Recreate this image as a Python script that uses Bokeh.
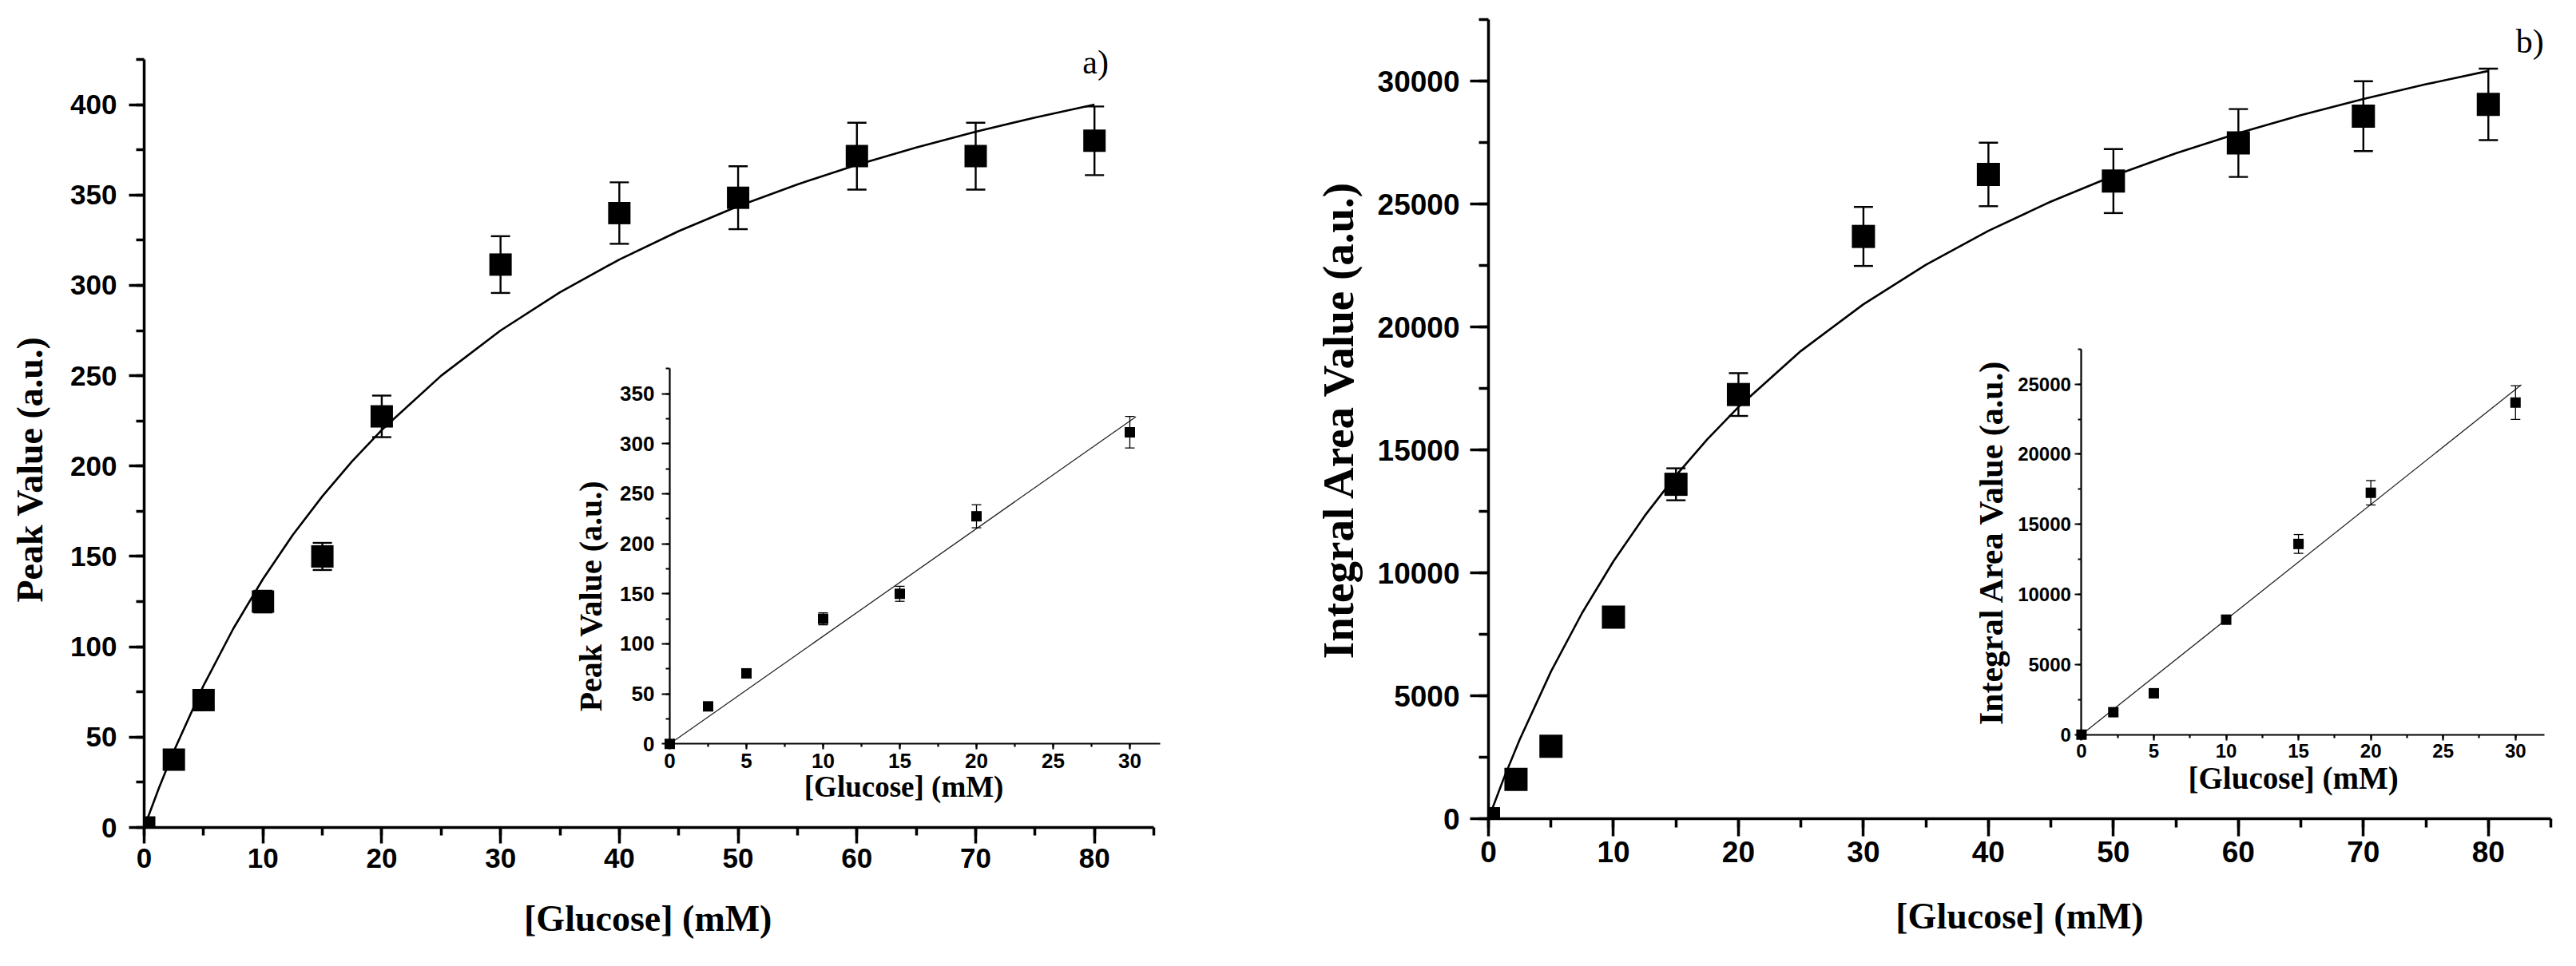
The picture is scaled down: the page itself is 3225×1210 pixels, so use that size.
from bokeh.plotting import figure
from bokeh.models import Range1d, LinearAxis, SingleIntervalTicker, Label
from bokeh.layouts import row
from bokeh.embed import file_html
from bokeh.resources import INLINE

# ---------------- data ----------------
# panel a) main
glucose_a = [0, 2.5, 5, 10, 15, 20, 30, 40, 50, 60, 70, 80]
peak_value = [0, 37.5, 70.5, 125, 150, 227.5, 311.5, 340, 348.5, 371.5, 371.5, 380]
peak_err = [0, 3, 3, 6, 7.5, 11.5, 15.7, 17, 17.4, 18.5, 18.5, 19]
fit_a_x = [0, 1.25, 2.5, 5, 7.5, 10, 12.5, 15, 17.5, 20, 25, 30, 35, 40, 45, 50, 55, 60, 65, 70, 75, 80]
fit_a_y = [0, 22.0, 42.3, 78.6, 110.0, 137.5, 161.8, 183.3, 202.6, 220.0, 250.0, 275.0, 296.2,
           314.3, 330.0, 343.8, 355.9, 366.7, 376.3, 385.0, 392.9, 400.0]
# panel a) inset
inset_glucose_a = [0, 2.5, 5, 10, 15, 20, 30]
inset_peak = [0, 37.5, 70.5, 125, 150, 227.5, 311.5]
inset_peak_err = [0, 3, 3, 6, 7.5, 11.5, 15.7]
inset_fit_a_x = [0, 30.4]
inset_fit_a_y = [0, 327]

# panel b) main
glucose_b = [0, 2.2, 5, 10, 15, 20, 30, 40, 50, 60, 70, 80]
area_value = [0, 1600, 2950, 8200, 13600, 17250, 23680, 26200, 25930, 27480, 28570, 29050]
area_err = [0, 200, 200, 300, 650, 870, 1200, 1290, 1300, 1380, 1420, 1455]
fit_b_x = [0, 1.25, 2.5, 5, 7.5, 10, 12.5, 15, 17.5, 20, 25, 30, 35, 40, 45, 50, 55, 60, 65, 70, 75, 80]
fit_b_y = [0, 1676, 3223, 5985, 8377, 10470, 12316, 13956, 15423, 16743, 19023, 20922, 22529,
           23906, 25099, 26142, 27063, 27881, 28613, 29272, 29868, 30410]
# panel b) inset
inset_glucose_b = [0, 2.2, 5, 10, 15, 20, 30]
inset_area = [0, 1600, 2950, 8200, 13600, 17250, 23680]
inset_area_err = [0, 200, 200, 300, 670, 870, 1200]
inset_fit_b_x = [0, 30.4]
inset_fit_b_y = [0, 24950]

x_title = "[Glucose] (mM)"
y_title_a = "Peak Value (a.u.)"
y_title_b = "Integral Area Value (a.u.)"

SANS = "Liberation Sans"
SERIF = "Liberation Serif"
NB = "\u00a0"  # used to nudge the centred axis titles like in the original

BORDER_TOP = 24      # shared top border (frames of a row share their top edge)
BORDER_BOTTOM = 150


def style_axis(ax, tick_font, tick_out, minor_out, lab_standoff, title_font, title_standoff, lw):
    ax.major_label_text_font = SANS
    ax.major_label_text_font_style = "bold"
    ax.major_label_text_font_size = tick_font
    ax.major_label_text_color = "black"
    ax.major_tick_in = 0
    ax.minor_tick_in = 0
    ax.major_tick_out = tick_out
    ax.minor_tick_out = minor_out
    ax.major_label_standoff = lab_standoff
    ax.axis_label_text_font = SERIF
    ax.axis_label_text_font_style = "bold"
    ax.axis_label_text_font_size = title_font
    ax.axis_label_text_color = "black"
    ax.axis_label_standoff = title_standoff
    ax.axis_line_width = lw
    ax.major_tick_line_width = lw
    ax.minor_tick_line_width = lw
    ax.axis_line_color = "black"
    ax.major_tick_line_color = "black"
    ax.minor_tick_line_color = "black"


def inset_ranges(frame_w, frame_h, px_l, px_r, px_b, px_t, x0, x1, y0, y1):
    sx = (px_r - px_l) / (x1 - x0)
    sy = (px_t - px_b) / (y1 - y0)
    xs = x0 - px_l / sx
    ys = y0 - px_b / sy
    return Range1d(xs, xs + frame_w / sx), Range1d(ys, ys + frame_h / sy)


def errorbars(p, xs, ys, errs, cap, lw, **kw):
    xe, lo, hi = [], [], []
    for x, y, e in zip(xs, ys, errs):
        if e > 0:
            xe.append(x)
            lo.append(y - e)
            hi.append(y + e)
    p.segment(x0=xe, y0=lo, x1=xe, y1=hi, line_color="black", line_width=lw, **kw)
    p.scatter(xe + xe, lo + hi, marker="dash", size=cap, line_color="black", line_width=lw, **kw)


def make_panel(cfg):
    FW = cfg["frame_w"]
    FH = cfg["frame_h"]
    sy = cfg["y_px"] / cfg["y_top"]          # px per unit of main y
    ixr, iyr = inset_ranges(FW, FH, *cfg["inset_px"], 0, cfg["inset_x_end"], 0, cfg["inset_y_end"])
    p = figure(frame_width=FW, frame_height=FH,
               x_range=Range1d(0, cfg["x_end"]), y_range=Range1d(0, FH / sy),
               extra_x_ranges={"ix": ixr}, extra_y_ranges={"iy": iyr},
               output_backend="svg", toolbar_location=None,
               min_border_left=cfg["borders"][0], min_border_right=cfg["borders"][1],
               min_border_top=BORDER_TOP, min_border_bottom=BORDER_BOTTOM)
    p.xgrid.visible = False
    p.ygrid.visible = False
    p.outline_line_color = None
    p.background_fill_color = "white"
    p.border_fill_color = "white"

    # main axes
    p.xaxis.ticker = SingleIntervalTicker(interval=10, num_minor_ticks=2)
    p.yaxis.ticker = SingleIntervalTicker(interval=cfg["y_int"], num_minor_ticks=2)
    p.xaxis.bounds = (0, 85)
    p.yaxis.bounds = (0, cfg["y_top"])
    p.xaxis.axis_label = x_title + NB * cfg["pad"][0]
    p.yaxis.axis_label = cfg["ytitle"] + NB * cfg["pad"][1]
    style_axis(p.xaxis[0], *cfg["main_x"])
    style_axis(p.yaxis[0], *cfg["main_y"])

    # main data
    p.line(cfg["fit_x"], cfg["fit_y"], line_color="black", line_width=2.6)
    errorbars(p, cfg["x"], cfg["y"], cfg["err"], cfg["cap"], 2.4)
    p.scatter(cfg["x"], cfg["y"], marker="square", size=cfg["msize"], fill_color="black", line_color=None)

    # inset axes
    iax = LinearAxis(x_range_name="ix", y_range_name="iy", fixed_location=0,
                     bounds=(0, cfg["inset_x_end"]),
                     ticker=SingleIntervalTicker(interval=5, num_minor_ticks=2),
                     axis_label=x_title + NB * cfg["pad"][2])
    iay = LinearAxis(x_range_name="ix", y_range_name="iy", fixed_location=0,
                     bounds=(0, cfg["inset_y_end"]),
                     ticker=SingleIntervalTicker(interval=cfg["iy_int"], num_minor_ticks=2),
                     axis_label=cfg["ytitle"] + NB * cfg["pad"][3])
    style_axis(iax, *cfg["inset_x"])
    style_axis(iay, *cfg["inset_y"])
    p.add_layout(iax, "below")
    p.add_layout(iay, "left")

    # inset data
    p.line(cfg["ifit_x"], cfg["ifit_y"], line_color="#222222", line_width=1.3,
           x_range_name="ix", y_range_name="iy")
    errorbars(p, cfg["ix"], cfg["iy"], cfg["ierr"], 12, 1.3, x_range_name="ix", y_range_name="iy")
    p.scatter(cfg["ix"], cfg["iy"], marker="square", size=13, fill_color="black", line_color=None,
              x_range_name="ix", y_range_name="iy")

    lab = Label(x=cfg["tag_pos"][0], y=cfg["tag_pos"][1], text=cfg["tag"], text_font=SERIF,
                text_font_size="42px", text_color="black", text_baseline="alphabetic",
                text_align="left")
    p.add_layout(lab)
    return p


cfg_a = dict(
    frame_w=1273, frame_h=1012, x_end=85.6, y_top=425, y_px=962, y_int=50,
    borders=(180, 164),
    inset_px=(658, 1272.4, 104.7, 574.7), inset_x_end=32, inset_y_end=375, iy_int=50,
    ytitle=y_title_a, pad=(1, 10, 3, 10),
    main_x=("35px", 20, 10, 6, "46px", 35, 3.5),
    main_y=("35px", 19, 10, 15, "46px", 22, 3.5),
    inset_x=("26px", 7, 4, 5, "37px", 0, 2.2),
    inset_y=("26px", 10, 5, 9, "40px", 11, 2.2),
    x=glucose_a, y=peak_value, err=peak_err, fit_x=fit_a_x, fit_y=fit_a_y,
    ix=inset_glucose_a, iy=inset_peak, ierr=inset_peak_err,
    ifit_x=inset_fit_a_x, ifit_y=inset_fit_a_y,
    cap=24, msize=28, tag="a)", tag_pos=(79.0, 423.6),
)

cfg_b = dict(
    frame_w=1330, frame_h=1001, x_end=85, y_top=32500, y_px=1001, y_int=5000,
    borders=(246, 20),
    inset_px=(742.4, 1322, 105.3, 588.3), inset_x_end=32, inset_y_end=27500, iy_int=5000,
    ytitle=y_title_b, pad=(0, 0, 5, 0),
    main_x=("37px", 22, 11, 6, "46px", 39, 3.5),
    main_y=("37px", 23, 12, 13, "55px", 16, 3.5),
    inset_x=("24px", 7, 4, 5, "39px", 0, 2.2),
    inset_y=("24px", 8, 4, 5, "42px", 7, 2.2),
    x=glucose_b, y=area_value, err=area_err, fit_x=fit_b_x, fit_y=fit_b_y,
    ix=inset_glucose_b, iy=inset_area, ierr=inset_area_err,
    ifit_x=inset_fit_b_x, ifit_y=inset_fit_b_y,
    cap=24, msize=29, tag="b)", tag_pos=(82.2, 31600),
)

pa = make_panel(cfg_a)
pb = make_panel(cfg_b)
layout = row(pa, pb)

open("out.html", "w").write(file_html(layout, INLINE))
